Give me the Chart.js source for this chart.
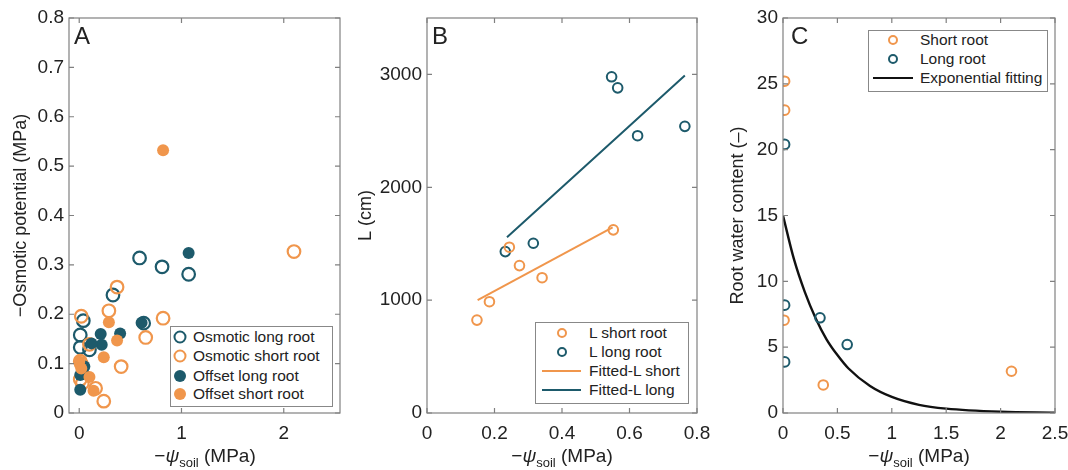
<!DOCTYPE html>
<html>
<head>
<meta charset="utf-8">
<script src="https://cdn.jsdelivr.net/npm/chart.js@4.4.1/dist/chart.umd.min.js"></script>
<style>
  body { margin: 0; background: #fff; font-family: "Liberation Sans", Arial, sans-serif; color: #222; }
  #wrap { position: relative; width: 1068px; height: 470px; overflow: hidden; }
  .panel { position: absolute; top: 0; height: 470px; }
  .xt { position: absolute; top: 445px; font-size: 19px; white-space: nowrap; transform: translateX(-50%); }
  .xt sub { font-size: 13px; }
  .tag { position: absolute; top: 22px; font-size: 24px; }
  .lg { position: absolute; border: 1.5px solid #888; background: #fff; font-size: 15.5px; }
  .lg .row { position: absolute; left: 0; white-space: nowrap; transform: translateY(-50%); }
  .mk { position: absolute; border-radius: 50%; box-sizing: border-box; transform: translate(-50%, -50%); }
  .ln { position: absolute; height: 2px; transform: translateY(-50%); }
</style>
</head>
<body>
<div id="wrap">
  <div class="panel" style="left:0;width:350px"><canvas id="cA"></canvas></div>
  <div class="panel" style="left:350px;width:365px"><canvas id="cB"></canvas></div>
  <div class="panel" style="left:715px;width:353px"><canvas id="cC"></canvas></div>

  <div class="tag" style="left:74px">A</div>
  <div class="tag" style="left:432px">B</div>
  <div class="tag" style="left:791px">C</div>

  <div class="xt" style="left:205px">&minus;<i>ψ</i><sub>soil</sub> (MPa)</div>
  <div class="xt" style="left:562px">&minus;<i>ψ</i><sub>soil</sub> (MPa)</div>
  <div class="xt" style="left:919px">&minus;<i>ψ</i><sub>soil</sub> (MPa)</div>

  <div id="lgA" class="lg" style="left:170px;top:326px;width:161px;height:79px"></div>
  <div id="lgB" class="lg" style="left:535px;top:322px;width:152px;height:80px"></div>
  <div id="lgC" class="lg" style="left:868px;top:30px;width:178px;height:60px"></div>
</div>

<script>
// ---- colours ----
const TEAL = "#1d5a6b";
const ORANGE = "#f0964c";

// ---- panel A: osmotic potential vs soil water potential ----
const aTicksX = [0, 1, 2];
const aTicksY = [0, 0.1, 0.2, 0.3, 0.4, 0.5, 0.6, 0.7, 0.8];
const aOsmoticLong = [[0.59,0.314],[0.81,0.296],[1.07,0.281],[0.33,0.239],[0.04,0.187],[0.01,0.158],[0.01,0.133],[0.10,0.128],[0.63,0.182]];
const aOsmoticShort = [[2.10,0.327],[0.37,0.255],[0.29,0.207],[0.02,0.196],[0.82,0.192],[0.65,0.153],[0.10,0.139],[0.41,0.094],[0.01,0.105],[0.02,0.100],[0.16,0.050],[0.24,0.024],[0.01,0.068],[0.03,0.060]];
const aOffsetLong = [[1.07,0.324],[0.61,0.183],[0.40,0.161],[0.21,0.160],[0.22,0.138],[0.12,0.141],[0.05,0.094],[0.01,0.077],[0.01,0.047],[0.04,0.080]];
const aOffsetShort = [[0.82,0.532],[0.29,0.184],[0.37,0.147],[0.24,0.113],[0.10,0.073],[0.14,0.045],[0.00,0.104],[0.02,0.090]];

// ---- panel B: root length ----
const bTicksX = [0, 0.2, 0.4, 0.6, 0.8];
const bTicksY = [0, 1000, 2000, 3000];
const bShort = [[0.148,823],[0.185,986],[0.244,1469],[0.274,1306],[0.341,1199],[0.552,1623]];
const bLong = [[0.232,1430],[0.315,1504],[0.547,2979],[0.565,2881],[0.624,2457],[0.764,2540]];
const bFitShort = [[0.15,1000],[0.55,1645]];
const bFitLong = [[0.237,1558],[0.764,2990]];

// ---- panel C: root water content ----
const cTicksX = [0, 0.5, 1, 1.5, 2, 2.5];
const cTicksY = [0, 5, 10, 15, 20, 25, 30];
const cShort = [[0.015,25.2],[0.015,23.0],[0.01,7.05],[0.37,2.13],[2.10,3.17]];
const cLong = [[0.015,20.4],[0.015,8.19],[0.34,7.23],[0.59,5.2],[0.015,3.88]];
const cFit = [[0,15],[0.1,11.7],[0.2,9.2],[0.3,7.2],[0.4,5.6],[0.5,4.4],[0.6,3.4],[0.8,2.05],[1.0,1.22],[1.25,0.62],[1.5,0.33],[2.0,0.09],[2.5,0.02]];

const pts = arr => arr.map(([x, y]) => ({ x, y }));
const FAMILY = "'Liberation Sans', Arial, sans-serif";
const TICK_FONT = { family: FAMILY, size: 19 };
const TITLE_FONT = { family: FAMILY, size: 18 };

// box frame with inward ticks on all four sides, MATLAB style
const framePlugin = {
  id: "frame",
  afterDraw(chart) {
    const { ctx, chartArea: a, scales } = chart;
    ctx.save();
    ctx.strokeStyle = "#808080";
    ctx.lineWidth = 1.2;
    ctx.strokeRect(a.left, a.top, a.right - a.left, a.bottom - a.top);
    const len = 5;
    ctx.beginPath();
    scales.x.ticks.forEach(t => {
      const px = scales.x.getPixelForValue(t.value);
      ctx.moveTo(px, a.bottom); ctx.lineTo(px, a.bottom - len);
      ctx.moveTo(px, a.top); ctx.lineTo(px, a.top + len);
    });
    scales.y.ticks.forEach(t => {
      const py = scales.y.getPixelForValue(t.value);
      ctx.moveTo(a.left, py); ctx.lineTo(a.left + len, py);
      ctx.moveTo(a.right, py); ctx.lineTo(a.right - len, py);
    });
    ctx.stroke();
    ctx.restore();
  }
};

function axes(o) {
  return {
    x: {
      type: "linear", min: o.xmin, max: o.xmax,
      afterBuildTicks: s => { s.ticks = o.xt.map(v => ({ value: v })); },
      // fixed height, and no extra room for the end labels
      afterFit: s => { s.height = 57; s.paddingLeft = 0; s.paddingRight = 0; },
      grid: { display: false, drawTicks: false }, border: { display: false },
      ticks: { color: "#222", font: TICK_FONT, padding: 9, maxRotation: 0, callback: v => String(v) }
    },
    y: {
      type: "linear", min: o.ymin, max: o.ymax,
      afterBuildTicks: s => { s.ticks = o.yt.map(v => ({ value: v })); },
      afterFit: s => { s.width = o.yw; s.paddingTop = 0; s.paddingBottom = 0; },
      grid: { display: false, drawTicks: false }, border: { display: false },
      title: { display: true, text: o.ytitle, color: "#222", font: TITLE_FONT, padding: { top: o.tp, bottom: 0 } },
      ticks: { color: "#222", font: TICK_FONT, padding: 5, callback: v => String(v) }
    }
  };
}

function baseOptions(o) {
  return {
    responsive: true, maintainAspectRatio: false, animation: false,
    layout: { padding: { top: 18, right: o.pr, left: 0, bottom: 0 } },
    plugins: { legend: { display: false }, tooltip: { enabled: false } },
    scales: axes(o)
  };
}

const open = (data, color, r, bw, order) => ({
  type: "scatter", data: pts(data), order,
  pointRadius: r, pointBorderWidth: bw, pointBorderColor: color,
  pointBackgroundColor: "rgba(255,255,255,0)", showLine: false
});
const filled = (data, color, r, order) => ({
  type: "scatter", data: pts(data), order,
  pointRadius: r, pointBorderWidth: 0, pointBorderColor: color,
  pointBackgroundColor: color, showLine: false
});
const line = (data, color, w, order) => ({
  type: "line", data: pts(data), order,
  borderColor: color, borderWidth: w, pointRadius: 0, fill: false,
  cubicInterpolationMode: "monotone"
});

new Chart(document.getElementById("cA"), {
  type: "scatter",
  data: { datasets: [
    open(aOsmoticLong, TEAL, 6.3, 2.2, 4),
    open(aOsmoticShort, ORANGE, 6.3, 2.2, 3),
    filled(aOffsetLong, TEAL, 6, 2),
    filled(aOffsetShort, ORANGE, 6, 1)
  ] },
  options: baseOptions({ xmin: -0.1, xmax: 2.55, ymin: 0, ymax: 0.8, xt: aTicksX, yt: aTicksY,
    yw: 69, pr: 10, tp: 10, ytitle: "\u2212Osmotic potential (MPa)" }),
  plugins: [framePlugin]
});

new Chart(document.getElementById("cB"), {
  type: "scatter",
  data: { datasets: [
    line(bFitShort, ORANGE, 2, 3),
    line(bFitLong, TEAL, 2, 4),
    open(bShort, ORANGE, 4.8, 2, 1),
    open(bLong, TEAL, 4.8, 2, 2)
  ] },
  options: baseOptions({ xmin: 0, xmax: 0.8, ymin: 0, ymax: 3500, xt: bTicksX, yt: bTicksY,
    yw: 77, pr: 18, tp: 5, ytitle: "L (cm)" }),
  plugins: [framePlugin]
});

new Chart(document.getElementById("cC"), {
  type: "scatter",
  data: { datasets: [
    line(cFit, "#111", 2.4, 3),
    open(cShort, ORANGE, 4.8, 2, 1),
    open(cLong, TEAL, 4.8, 2, 2)
  ] },
  options: baseOptions({ xmin: 0, xmax: 2.5, ymin: 0, ymax: 30, xt: cTicksX, yt: cTicksY,
    yw: 68, pr: 13, tp: 12, ytitle: "Root water content (\u2013)" }),
  plugins: [framePlugin]
});

// ---- legends (HTML) ----
function legend(id, rows) {
  const box = document.getElementById(id);
  box.innerHTML = rows.map(r => {
    let mark = "";
    if (r.kind === "open") mark = `<span class="mk" style="left:${r.mx}px;top:${r.y}px;width:${r.d}px;height:${r.d}px;border:2px solid ${r.c}"></span>`;
    if (r.kind === "fill") mark = `<span class="mk" style="left:${r.mx}px;top:${r.y}px;width:${r.d}px;height:${r.d}px;background:${r.c}"></span>`;
    if (r.kind === "line") mark = `<span class="ln" style="left:${r.l0}px;top:${r.y}px;width:${r.l1 - r.l0}px;background:${r.c}"></span>`;
    return mark + `<span class="row" style="left:${r.tx}px;top:${r.y}px">${r.label}</span>`;
  }).join("");
}

legend("lgA", [
  { kind: "open", c: TEAL, d: 13, mx: 9, y: 10, tx: 22, label: "Osmotic long root" },
  { kind: "open", c: ORANGE, d: 13, mx: 9, y: 29, tx: 22, label: "Osmotic short root" },
  { kind: "fill", c: TEAL, d: 12, mx: 9, y: 49, tx: 22, label: "Offset long root" },
  { kind: "fill", c: ORANGE, d: 12, mx: 9, y: 67, tx: 22, label: "Offset short root" }
]);
legend("lgB", [
  { kind: "open", c: ORANGE, d: 10, mx: 26, y: 10, tx: 53, label: "L short root" },
  { kind: "open", c: TEAL, d: 10, mx: 26, y: 29, tx: 53, label: "L long root" },
  { kind: "line", c: ORANGE, l0: 6, l1: 45, y: 48, tx: 53, label: "Fitted-L short" },
  { kind: "line", c: TEAL, l0: 6, l1: 45, y: 67, tx: 53, label: "Fitted-L long" }
]);
legend("lgC", [
  { kind: "open", c: ORANGE, d: 10, mx: 24, y: 9, tx: 51, label: "Short root" },
  { kind: "open", c: TEAL, d: 10, mx: 24, y: 28, tx: 51, label: "Long root" },
  { kind: "line", c: "#111", l0: 4, l1: 44, y: 47, tx: 51, label: "Exponential fitting" }
]);
</script>
</body>
</html>
